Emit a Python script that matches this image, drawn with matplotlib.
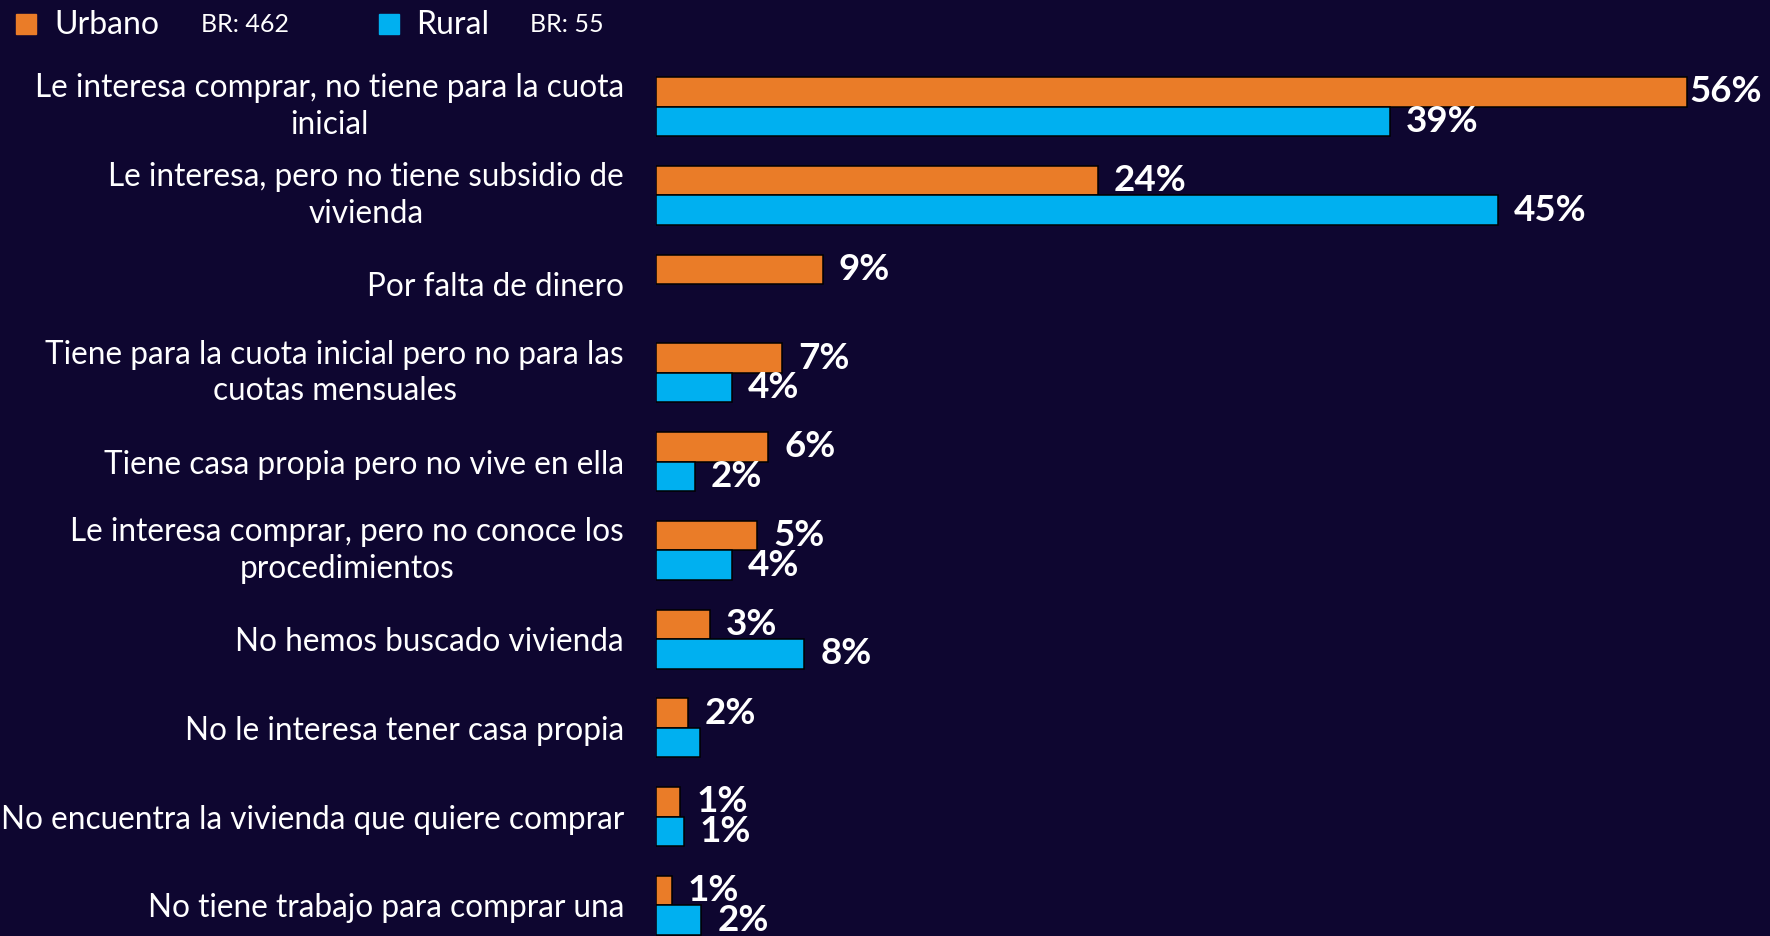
import numpy as np
import matplotlib
matplotlib.use("Agg")
import matplotlib.pyplot as plt
from matplotlib.patches import Rectangle

plt.rcParams['font.family'] = ['Lato', 'DejaVu Sans']

categories = [
    "Le interesa comprar, no tiene para la cuota\ninicial",
    "Le interesa, pero no tiene subsidio de\nvivienda",
    "Por falta de dinero",
    "Tiene para la cuota inicial pero no para las\ncuotas mensuales",
    "Tiene casa propia pero no vive en ella",
    "Le interesa comprar, pero no conoce los\nprocedimientos",
    "No hemos buscado vivienda",
    "No le interesa tener casa propia",
    "No encuentra la vivienda que quiere comprar",
    "No tiene trabajo para comprar una",
]
urbano = [55.6, 23.85, 9.0, 6.8, 6.05, 5.45, 2.9, 1.75, 1.3, 0.85]
rural = [39.6, 45.4, np.nan, 4.1, 2.1, 4.1, 8.0, 2.35, 1.5, 2.45]
urbano_labels = ["56%", "24%", "9%", "7%", "6%", "5%", "3%", "2%", "1%", "1%"]
rural_labels = ["39%", "45%", "", "4%", "2%", "4%", "8%", "", "1%", "2%"]
series_names = ["Urbano", "Rural"]
base_labels = ["BR: 462", "BR: 55"]

BG = "#0E0630"
ORANGE = "#EA7C28"
BLUE = "#00B0F0"

W, H = 1770, 936
fig = plt.figure(figsize=(W / 100, H / 100), dpi=100, facecolor=BG)
ax = fig.add_axes([656 / W, 0, 1 - 656 / W, 1])
ax.set_facecolor(BG)

n = len(categories)
y = np.arange(n)
h = 0.332
ax.barh(y - h / 2, urbano, height=h, color=ORANGE, edgecolor="black", linewidth=1.1)
ax.barh(y + h / 2, rural, height=h, color=BLUE, edgecolor="black", linewidth=1.1)

xmax = 60.1
ax.set_xlim(0, xmax)
ax.set_ylim(9.346, -1.2025)

ax.set_yticks(y)
ax.set_yticklabels(categories, fontsize=22.7, color="white", linespacing=1.27)
for t in ax.get_yticklabels():
    t.set_multialignment("center")
    if "\n" in t.get_text():
        t.set_verticalalignment("center")
ax.tick_params(axis="y", length=0, pad=23)
ax.set_xticks([])
for s in ax.spines.values():
    s.set_visible(False)

def add_labels(vals, labels, offset_y):
    for i, (v, lab) in enumerate(zip(vals, labels)):
        if not lab or np.isnan(v):
            continue
        off = 3 if v > 0.9 * xmax else 16
        ax.annotate(lab, xy=(v, i + offset_y), xytext=(off, 0),
                    textcoords="offset pixels", ha="left", va="center",
                    color="white", fontsize=26.5, fontweight="bold")

add_labels(urbano, urbano_labels, -h / 2)
add_labels(rural, rural_labels, h / 2)

# legend
leg_items = [(16, 54, 201, ORANGE), (379, 416, 530, BLUE)]
for (sx, tx, bx, col), name, br in zip(leg_items, series_names, base_labels):
    fig.add_artist(Rectangle((sx / W, 1 - 34 / H), 20 / W, 20 / H,
                             transform=fig.transFigure, color=col))
    fig.text(tx / W, 1 - 25 / H, name, color="white", fontsize=23,
             ha="left", va="center")
    fig.text(bx / W, 1 - 24 / H, br, color="white", fontsize=18,
             ha="left", va="center")

fig.savefig("out.png", dpi=100, facecolor=BG)
